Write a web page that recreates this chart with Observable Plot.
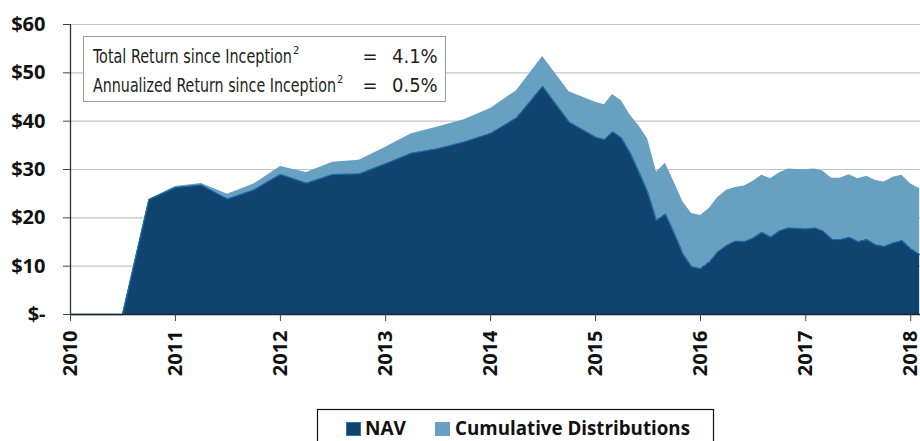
<!DOCTYPE html>
<html>
<head>
<meta charset="utf-8">
<script src="https://cdn.jsdelivr.net/npm/d3@7"></script>
<script src="https://cdn.jsdelivr.net/npm/@observablehq/plot@0.6"></script>
<style>
  html, body { margin: 0; padding: 0; background: #fff; }
  body { width: 920px; height: 441px; overflow: hidden; position: relative; font-family: "Open Sans", sans-serif; }
  #chart { position: absolute; left: 0; top: 0; }
  #overlay { position: absolute; left: 0; top: 0; pointer-events: none; }
</style>
</head>
<body>
<div id="chart"></div>
<svg id="overlay" width="920" height="441"></svg>
<script>
// ---- data ----
const dates = [
  "2010-01","2010-07","2010-10",
  "2011-01","2011-04","2011-07","2011-10",
  "2012-01","2012-04","2012-07","2012-10",
  "2013-01","2013-04","2013-07","2013-10",
  "2014-01","2014-04","2014-07","2014-10",
  "2015-01","2015-02","2015-03","2015-04","2015-05","2015-06","2015-07","2015-08","2015-09","2015-10","2015-11","2015-12",
  "2016-01","2016-02","2016-03","2016-04","2016-05","2016-06","2016-07","2016-08","2016-09","2016-10","2016-11","2016-12",
  "2017-01","2017-02","2017-03","2017-04","2017-05","2017-06","2017-07","2017-08","2017-09","2017-10","2017-11","2017-12",
  "2018-01","2018-02"
];
const nav = [
  0, 0, 23.8,
  26.3, 26.8, 23.9, 25.8,
  29.0, 27.2, 29.0, 29.1,
  31.2, 33.4, 34.3, 35.7,
  37.5, 40.7, 47.2, 39.8,
  36.7, 36.2, 37.8, 36.5, 33.5, 29.5, 25.4, 19.5, 20.8, 16.9, 12.5, 9.9,
  9.5, 10.9, 13.0, 14.3, 15.2, 15.1, 15.8, 17.0, 16.0, 17.3, 17.9, 17.8,
  17.7, 17.9, 17.3, 15.6, 15.5, 16.0, 15.1, 15.5, 14.4, 14.1, 14.8, 15.3,
  13.6, 12.4
];
const distributions = [
  0, 0, 0,
  0.2, 0.3, 1.0, 1.2,
  1.6, 2.2, 2.5, 2.8,
  3.4, 4.0, 4.5, 4.6,
  5.1, 5.6, 6.2, 6.3,
  7.2, 7.2, 7.7, 7.7, 7.8, 9.5, 10.9, 10.0, 10.5, 10.5, 10.8, 11.0,
  11.0, 11.1, 11.2, 11.4, 11.1, 11.5, 11.7, 11.8, 12.1, 12.0, 12.2, 12.2,
  12.3, 12.2, 12.4, 12.6, 12.7, 12.9, 13.0, 13.1, 13.3, 13.3, 13.6, 13.5,
  13.4, 13.6
];
const seriesNames = ["NAV", "Cumulative Distributions"];
const seriesColors = ["#10446f", "#67a0c1"];
const yTicks = [0, 10, 20, 30, 40, 50, 60];
const xTickYears = ["2010","2011","2012","2013","2014","2015","2016","2017","2018"];
const xStart = "2010-01-01", xEnd = "2018-02-04";
const noteLabels = ["Total Return since Inception", "Annualized Return since Inception"];
const noteValues = ["4.1%", "0.5%"];

// ---- build tables ----
const parseMonth = d3.utcParse("%Y-%m");
const parseDay = d3.utcParse("%Y-%m-%d");
const rows = dates.map((d, i) => ({date: parseMonth(d), nav: nav[i], dist: distributions[i]}));
const long = rows.flatMap(r => [
  {date: r.date, series: seriesNames[0], value: r.nav},
  {date: r.date, series: seriesNames[1], value: r.dist}
]);
const xTicks = xTickYears.map(y => d3.utcParse("%Y")(y));
const x0 = parseDay(xStart), x1 = parseDay(xEnd);

const chart = Plot.plot({
  width: 920,
  height: 441,
  marginLeft: 70,
  marginRight: 0,
  marginTop: 24,
  marginBottom: 127,
  style: {fontFamily: "'Open Sans', sans-serif", fontSize: "20px", fontWeight: 700, color: "#111", background: "#fff"},
  x: {type: "utc", domain: [x0, x1]},
  y: {domain: [0, 60]},
  color: {domain: seriesNames, range: seriesColors},
  marks: [
    Plot.gridY(yTicks, {stroke: "#c4c4c4", strokeOpacity: 1, strokeWidth: 1.2}),
    Plot.areaY(long, {x: "date", y: "value", fill: "series", order: seriesNames, curve: "linear"}),
    Plot.lineY(rows, {x: "date", y: "nav", stroke: "#1f6ca9", strokeWidth: 1.3}),
    Plot.ruleX([x0], {y1: 0, y2: 60, stroke: "#333", strokeWidth: 1.3}),
    Plot.ruleY([0], {stroke: "#222", strokeWidth: 1.5}),
    Plot.axisY(yTicks, {
      tickSize: 7, tickPadding: 18, stroke: "#444",
      tickFormat: d => d === 0 ? "$-" : "$" + d,
      fontSize: 20, fontWeight: 700, fill: "#111", label: null
    }),
    Plot.axisX(xTicks, {
      tickSize: 7, tickPadding: 9, tickRotate: -90, stroke: "#444",
      tickFormat: d3.utcFormat("%Y"),
      fontSize: 20, fontWeight: 700, fill: "#111", label: null
    })
  ]
});
document.getElementById("chart").appendChild(chart);

// ---- annotation box and legend (real text) ----
const ov = d3.select("#overlay");
const note = ov.append("g").attr("font-family", "'Liberation Sans Narrow','DejaVu Sans Condensed',sans-serif")
  .attr("font-size", 20).attr("fill", "#231f20");
note.append("rect").attr("x", 83.5).attr("y", 36.5).attr("width", 362).attr("height", 65)
  .attr("fill", "#fff").attr("stroke", "#9a9a9a").attr("stroke-width", 1);
const baselines = [63, 92];
const labelLengths = [199, 243];
noteLabels.forEach((t, i) => {
  const tx = note.append("text").attr("x", 93).attr("y", baselines[i]);
  tx.append("tspan").attr("textLength", labelLengths[i]).attr("lengthAdjust", "spacingAndGlyphs").text(t);
  tx.append("tspan").attr("dx", 1).attr("dy", -9).attr("font-size", 11).text("2");
  note.append("text").attr("x", 370).attr("y", baselines[i]).attr("text-anchor", "middle").text("=");
  note.append("text").attr("x", 392).attr("y", baselines[i]).text(noteValues[i]);
});

const leg = ov.append("g").attr("font-family", "'Open Sans',sans-serif").attr("font-weight", 700)
  .attr("font-size", 20).attr("fill", "#111");
leg.append("rect").attr("x", 317.5).attr("y", 409.5).attr("width", 396).attr("height", 40)
  .attr("fill", "#fff").attr("stroke", "#111").attr("stroke-width", 1.2);
const swX = [346, 435], txX = [365, 455], txLen = [41, 235];
seriesNames.forEach((s, i) => {
  leg.append("rect").attr("x", swX[i] + 0.5).attr("y", 422.5).attr("width", 14).attr("height", 13)
    .attr("fill", seriesColors[i]).attr("stroke", i === 0 ? "#2b74b0" : seriesColors[i]).attr("stroke-width", 1);
  leg.append("text").attr("x", txX[i]).attr("y", 435).attr("textLength", txLen[i])
    .attr("lengthAdjust", "spacingAndGlyphs").text(s);
});
</script>
</body>
</html>
